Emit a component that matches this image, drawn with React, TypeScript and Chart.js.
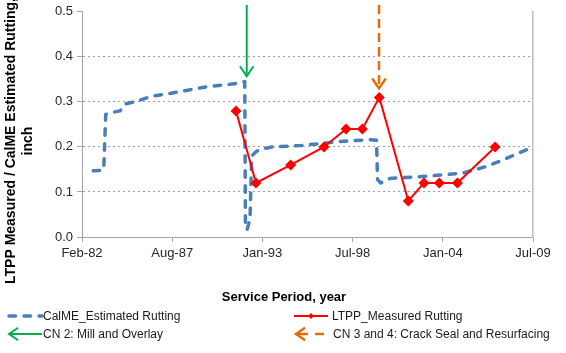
import React, { useEffect, useRef } from 'react';
import { Chart, registerables } from 'chart.js';
Chart.register(...registerables);

// ---- data ----
const xStart = 1982.12; // Feb-82
const xStep = 2000 / 365.25; // 2000-day major unit
const xTickLabels = ['Feb-82', 'Aug-87', 'Jan-93', 'Jul-98', 'Jan-04', 'Jul-09'];
const yTicks = [0, 0.1, 0.2, 0.3, 0.4, 0.5];

const calmeYears = [1982.8, 1983.32, 1983.44, 1983.56, 1983.82, 1984.43, 1984.8, 1985.3, 1986.3, 1987.52, 1988.55, 1989.75, 1991.35, 1992.0, 1992.04, 1992.14, 1992.32, 1992.42, 1992.7, 1993.1, 1993.7, 1995.4, 1997.8, 1999.6, 2000.0, 2000.06, 2000.25, 2000.8, 2003.07, 2005.25, 2006.71, 2007.92, 2009.5];
const calmeValues = [0.147, 0.148, 0.15, 0.272, 0.276, 0.28, 0.296, 0.3, 0.312, 0.319, 0.326, 0.334, 0.34, 0.345, 0.03, 0.016, 0.04, 0.18, 0.19, 0.196, 0.2, 0.203, 0.212, 0.216, 0.215, 0.128, 0.12, 0.13, 0.135, 0.142, 0.157, 0.175, 0.2];

const ltppYears = [1991.47, 1992.68, 1994.79, 1996.81, 1998.15, 1999.14, 2000.17, 2001.93, 2002.88, 2003.81, 2004.91, 2007.2];
const ltppValues = [0.28, 0.12, 0.16, 0.2, 0.24, 0.24, 0.31, 0.08, 0.12, 0.12, 0.12, 0.2];

const cn2Years = [1992.12, 1992.12];
const cn2Values = [0.515, 0.357];
const cn34Years = [2000.15, 2000.15];
const cn34Values = [0.515, 0.33];

const seriesNames = ['CalME_Estimated Rutting', 'LTPP_Measured Rutting', 'CN 2: Mill and Overlay', 'CN 3 and 4: Crack Seal and Resurfacing'];
const yTitleLines = ['LTPP Measured / CalME Estimated Rutting,', 'inch'];
const xTitle = 'Service Period, year';

const BLUE = '#4a7ebb';
const RED = '#ff0000';
const GREEN = '#00b050';
const ORANGE = '#e46c0a';
const FONT = "'Liberation Sans', Arial, sans-serif";

const zip = (xs: number[], ys: number[]) => xs.map((x, i) => ({ x, y: ys[i] }));

function drawArrowHead(ctx: CanvasRenderingContext2D, tipX: number, tipY: number, angle: number, len: number, spread: number, color: string, width: number) {
  ctx.save();
  ctx.setLineDash([]);
  ctx.strokeStyle = color;
  ctx.lineWidth = width;
  ctx.lineCap = 'butt';
  ctx.lineJoin = 'miter';
  ctx.beginPath();
  ctx.moveTo(tipX - len * Math.cos(angle - spread), tipY - len * Math.sin(angle - spread));
  ctx.lineTo(tipX, tipY);
  ctx.lineTo(tipX - len * Math.cos(angle + spread), tipY - len * Math.sin(angle + spread));
  ctx.stroke();
  ctx.restore();
}

const decorPlugin = {
  id: 'decor',
  afterDatasetsDraw(chart: any) {
    const ctx = chart.ctx as CanvasRenderingContext2D;
    chart.data.datasets.forEach((ds: any, i: number) => {
      if (!ds.arrowHead) return;
      const meta = chart.getDatasetMeta(i);
      const pts = meta.data;
      const a = pts[pts.length - 2];
      const b = pts[pts.length - 1];
      const ang = Math.atan2(b.y - a.y, b.x - a.x);
      drawArrowHead(ctx, b.x, b.y, ang, 12, 0.6, ds.borderColor, ds.borderWidth);
    });
  },
  afterDraw(chart: any) {
    const ctx = chart.ctx as CanvasRenderingContext2D;
    const area = chart.chartArea;
    ctx.save();
    // y title
    ctx.fillStyle = '#000';
    ctx.font = `bold 14px ${FONT}`;
    ctx.textAlign = 'center';
    ctx.textBaseline = 'alphabetic';
    ctx.save();
    ctx.translate(15, 141);
    ctx.rotate(-Math.PI / 2);
    ctx.fillText(yTitleLines[0], 0, 0);
    ctx.restore();
    ctx.save();
    ctx.translate(32, 141);
    ctx.rotate(-Math.PI / 2);
    ctx.fillText(yTitleLines[1], 0, 0);
    ctx.restore();
    // x title
    ctx.font = `bold 13px ${FONT}`;
    ctx.textBaseline = 'middle';
    ctx.fillText(xTitle, 284, area.bottom + 60);

    // legend
    const r1 = 316, r2 = 334;
    const lx = 7, rx = 294;
    ctx.font = `12px ${FONT}`;
    ctx.textAlign = 'left';
    ctx.fillStyle = '#1a1a1a';
    ctx.textBaseline = 'middle';
    // blue
    ctx.save();
    ctx.strokeStyle = BLUE; ctx.lineWidth = 3.5; ctx.lineCap = 'round';
    ctx.setLineDash([6.5, 8.5]);
    ctx.beginPath(); ctx.moveTo(lx + 2, r1); ctx.lineTo(lx + 35, r1); ctx.stroke();
    ctx.restore();
    ctx.fillText(seriesNames[0], 43, r1 + 1);
    // red
    ctx.save();
    ctx.strokeStyle = RED; ctx.lineWidth = 2;
    ctx.beginPath(); ctx.moveTo(rx, r1); ctx.lineTo(rx + 34, r1); ctx.stroke();
    ctx.fillStyle = RED;
    ctx.beginPath();
    const dx = rx + 17;
    ctx.moveTo(dx, r1 - 3); ctx.lineTo(dx + 3, r1); ctx.lineTo(dx, r1 + 3); ctx.lineTo(dx - 3, r1); ctx.closePath(); ctx.fill();
    ctx.restore();
    ctx.fillText(seriesNames[1], 332, r1 + 1);
    // green
    ctx.save();
    ctx.strokeStyle = GREEN; ctx.lineWidth = 2;
    ctx.beginPath(); ctx.moveTo(lx + 2, r2); ctx.lineTo(lx + 35, r2); ctx.stroke();
    ctx.restore();
    drawArrowHead(ctx, lx + 2, r2, Math.PI, 11, 0.6, GREEN, 2);
    ctx.fillText(seriesNames[2], 43, r2 + 1);
    // orange
    ctx.save();
    ctx.strokeStyle = ORANGE; ctx.lineWidth = 2.5;
    ctx.beginPath(); ctx.moveTo(rx + 3, r2); ctx.lineTo(rx + 14, r2); ctx.stroke();
    ctx.beginPath(); ctx.moveTo(rx + 21, r2); ctx.lineTo(rx + 30, r2); ctx.stroke();
    ctx.restore();
    drawArrowHead(ctx, rx + 2, r2, Math.PI, 11, 0.6, ORANGE, 2.5);
    ctx.fillText(seriesNames[3], 333, r2 + 1);
    ctx.restore();
  },
};

export default function App() {
  const ref = useRef<HTMLCanvasElement | null>(null);
  useEffect(() => {
    if (!ref.current) return;
    const gridGray = '#a6a6a6';
    const chart = new Chart(ref.current, {
      type: 'line',
      data: {
        datasets: [
          {
            label: seriesNames[0],
            data: zip(calmeYears, calmeValues),
            borderColor: BLUE,
            backgroundColor: BLUE,
            borderWidth: 3.5,
            borderDash: [6.5, 8.5],
            borderCapStyle: 'round',
            borderJoinStyle: 'round',
            pointRadius: 0,
            tension: 0,
            order: 3,
          },
          {
            label: seriesNames[1],
            data: zip(ltppYears, ltppValues),
            borderColor: RED,
            backgroundColor: RED,
            borderWidth: 2,
            pointStyle: 'rectRot',
            pointRadius: 5.5,
            pointBorderWidth: 0,
            tension: 0,
            order: 1,
          },
          {
            label: seriesNames[2],
            data: zip(cn2Years, cn2Values),
            borderColor: GREEN,
            borderWidth: 2,
            pointRadius: 0,
            clip: false,
            arrowHead: true,
            order: 0,
          } as any,
          {
            label: seriesNames[3],
            data: zip(cn34Years, cn34Values),
            borderColor: ORANGE,
            borderWidth: 2.5,
            borderDash: [9, 5],
            pointRadius: 0,
            clip: false,
            arrowHead: true,
            order: 0,
          } as any,
        ],
      },
      options: {
        animation: false,
        responsive: false,
        maintainAspectRatio: false,
        devicePixelRatio: 1,
        layout: { padding: { left: 0, top: 7, right: 33, bottom: 0 } },
        plugins: { legend: { display: false }, tooltip: { enabled: false } },
        scales: {
          x: {
            type: 'linear',
            min: xStart,
            max: xStart + 5 * xStep,
            afterBuildTicks: (s: any) => {
              s.ticks = xTickLabels.map((_, i) => ({ value: xStart + i * xStep }));
            },
            ticks: {
              autoSkip: false,
              maxRotation: 0,
              padding: 4,
              color: '#262626',
              font: { family: FONT, size: 13 },
              callback: (_v: any, i: number) => xTickLabels[i],
            },
            grid: { drawOnChartArea: false, tickLength: 5, tickColor: gridGray },
            border: { color: gridGray, width: 1 },
            afterFit: (s: any) => { s.height = 116; },
          },
          y: {
            min: 0,
            max: 0.5,
            afterBuildTicks: (s: any) => {
              s.ticks = yTicks.map((v) => ({ value: v }));
            },
            ticks: {
              padding: 4,
              color: '#262626',
              font: { family: FONT, size: 13 },
              callback: (v: any) => Number(v).toFixed(1),
            },
            grid: {
              color: (c: any) => (c.tick && (c.tick.value === 0 || c.tick.value === 0.5) ? 'rgba(0,0,0,0)' : '#a0a0a0'),
              tickColor: gridGray,
              tickLength: 5,
              lineWidth: 1,
            },
            border: { color: gridGray, width: 1, dash: [2, 3] },
            afterFit: (s: any) => { s.width = 82; },
          },
          y2: {
            position: 'right',
            min: 0,
            max: 0.5,
            ticks: { display: false },
            grid: { display: false, drawTicks: false },
            border: { display: true, color: '#bfbfbf', width: 1.5 },
            afterFit: (s: any) => { s.width = 0; },
          },
        },
      } as any,
      plugins: [decorPlugin],
    });
    return () => chart.destroy();
  }, []);
  return (
    <div style={{ position: 'fixed', left: 0, top: 0, width: 566, height: 353, background: '#fff' }}>
      <canvas ref={ref} width={566} height={353} style={{ width: 566, height: 353, display: 'block' }} />
    </div>
  );
}
